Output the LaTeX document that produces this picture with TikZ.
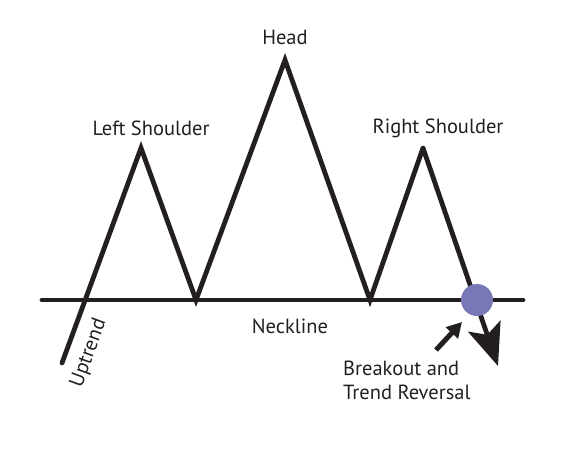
\documentclass[tikz,border=0pt]{standalone}
\usepackage{fontspec}
\setmainfont{PT Sans}
\usetikzlibrary{arrows.meta}
\definecolor{chartink}{HTML}{231F20}
\definecolor{breakblue}{HTML}{7878B6}

\begin{document}
\begin{tikzpicture}[x=1pt, y=-1pt,
  tag/.style={font=\fontsize{20.5}{24}\selectfont, text=chartink, inner sep=0pt},
  trend/.style={draw=chartink, line width=4.8pt}]
  \useasboundingbox (0,0) rectangle (579,450);

  % ---------- Neckline ----------
  \coordinate (nl-west) at (42,300);
  \coordinate (nl-east) at (523,300);
  \draw[trend, line cap=round] (nl-west) -- (nl-east);

  % ---------- Price path ----------
  \coordinate (start)   at (62,363);
  \coordinate (lpeak)   at (141,148);
  \coordinate (ltrough) at (196,300);
  \coordinate (hpeak)   at (285,60);
  \coordinate (rtrough) at (370,300);
  \coordinate (rpeak)   at (423,148);
  \coordinate (drop)    at (498,366);
  \draw[trend, line cap=round] (start) -- (lpeak) -- (ltrough) -- (hpeak) -- (rtrough) -- (rpeak);
  \draw[trend, -{Stealth[length=42pt, width=34pt, inset=9pt]}] (rpeak) -- (drop);

  % ---------- Breakout ----------
  \node[circle, fill=breakblue, minimum size=32pt, inner sep=0pt] (dot) at (477,300) {};
  \coordinate (cue) at (436,350);
  \coordinate (cue-tip) at (462,322);
  \draw[trend, line width=5pt, -{Triangle[length=15pt, width=16pt]}] (cue) -- (cue-tip);

  % ---------- Labels ----------
  \node[tag] (head) at (285,37) {Head};
  \node[tag] (lsh) at (151,128) {Left Shoulder};
  \node[tag] (rsh) at (438,128) {Right Shoulder};
  \node[tag] (neck) at (290,326) {Neckline};
  \node[tag, rotate=70] (up) at (89,353) {Uptrend};
  \node[tag, align=left, anchor=north west] (breakout) at (343,361)
    {Breakout and\\Trend Reversal};
\end{tikzpicture}
\end{document}
